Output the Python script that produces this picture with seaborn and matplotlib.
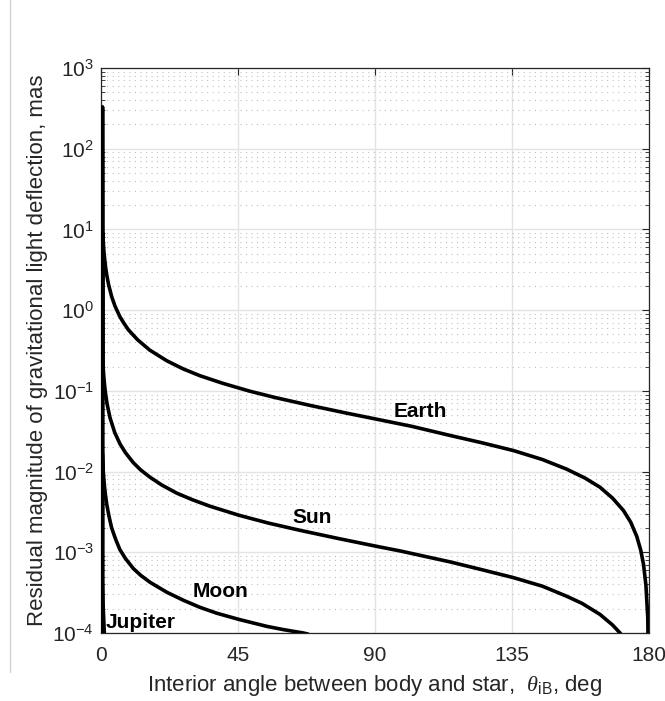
import matplotlib
matplotlib.use("Agg")
import matplotlib.pyplot as plt
import matplotlib.ticker as mticker
from matplotlib.lines import Line2D
import seaborn as sns
import pandas as pd
import numpy as np

# ---- data (theta in deg, deflection in mas) ----
earth_theta = [0.5, 0.6, 0.8, 1.0, 1.2, 1.5, 1.9, 2.5, 3.5, 4.6, 6.2, 7.5, 9.0, 12, 16, 21.6,
               27, 32.5, 40, 48.9, 57, 68.7, 80, 90.6, 102, 114.7, 125, 135.5, 145, 153, 159,
               163.9, 168, 171.6, 174, 176, 177.3, 178.2, 179, 179.6, 179.95]
earth_val = [1e-5, 9.0, 6.4, 5.1, 4.3, 3.4, 2.7, 2.06, 1.47, 1.12, 0.83, 0.69, 0.57, 0.43,
             0.32, 0.236, 0.187, 0.154, 0.124, 0.099, 0.083, 0.066, 0.0536, 0.0445, 0.0364,
             0.028, 0.0228, 0.0182, 0.0141, 0.0107, 0.0083, 0.0064, 0.0047, 0.0033, 0.00236,
             0.00157, 0.00106, 7.1e-4, 3.9e-4, 1.57e-4, 2e-5]

sun_theta = [0.45, 0.5, 0.6, 0.8, 1.0, 1.2, 1.5, 2.0, 2.96, 4.5, 6.24, 8, 10.6, 13, 16.1, 20,
             24.9, 30, 35.8, 45.4, 55, 65.4, 78, 90.3, 98.2, 114.7, 125, 135.5, 145, 153,
             158, 163.9, 168, 170.5, 171]
sun_val = [1e-5, 330, 0.23, 0.172, 0.1375, 0.115, 0.0917, 0.0687, 0.0464, 0.0305, 0.022,
           0.0172, 0.0129, 0.0105, 0.0085, 0.0068, 0.0054, 0.00448, 0.00372, 0.00287, 0.0023,
           0.00187, 0.00148, 0.00119, 0.00104, 7.6e-4, 6.1e-4, 4.85e-4, 3.8e-4, 2.85e-4,
           2.33e-4, 1.7e-4, 1.26e-4, 1.0e-4, 9.4e-5]

moon_theta = [0.4, 0.45, 0.76, 1.0, 1.2, 1.5, 1.9, 2.6, 3.5, 4.8, 6.2, 8, 10.6, 13, 16.1,
              21.6, 27, 32.5, 38, 45.4, 54.4, 60, 66.5, 68]
moon_val = [1e-5, 0.017, 0.0098, 0.00745, 0.0062, 0.00497, 0.0039, 0.00282, 0.0020, 0.00145,
            0.00108, 8.4e-4, 6.3e-4, 5.2e-4, 4.25e-4, 3.2e-4, 2.55e-4, 2.08e-4, 1.76e-4,
            1.47e-4, 1.21e-4, 1.1e-4, 1.0e-4, 9.7e-5]

jupiter_theta = [0.2, 0.25, 0.6, 1.0]
jupiter_val = [1e-6, 4.8e-4, 2e-4, 9e-5]

labels = ["Earth", "Sun", "Moon", "Jupiter"]
label_theta = [105, 69.5, 39.4, 13.1]
label_val = [0.056, 0.0027, 3.3e-4, 1.35e-4]

x_ticks = [0, 45, 90, 135, 180]
y_ticks = [1e-4, 1e-3, 1e-2, 1e-1, 1e0, 1e1, 1e2, 1e3]

# ---- style ----
sns.set_theme(style="white")
plt.rcParams["font.family"] = ["Liberation Sans", "DejaVu Sans"]
plt.rcParams["mathtext.fontset"] = "custom"
plt.rcParams["mathtext.rm"] = "Liberation Sans"
plt.rcParams["mathtext.it"] = "Liberation Serif:italic"
plt.rcParams["mathtext.bf"] = "Liberation Sans:bold"

fig = plt.figure(figsize=(6.65, 7.01), dpi=100)
ax = fig.add_axes([0.1519, 0.097, 0.8240, 0.806])

series = [(earth_theta, earth_val), (sun_theta, sun_val),
          (moon_theta, moon_val), (jupiter_theta, jupiter_val)]
for name, (th, v) in zip(labels, series):
    df = pd.DataFrame({"theta": th, "val": v})
    sns.lineplot(data=df, x="theta", y="val", ax=ax, color="black",
                 lw=3.2 if name == "Jupiter" else 2.6,
                 estimator=None, sort=False, legend=False, zorder=5)

ax.set_yscale("log")
ax.set_xlim(0, 180)
ax.set_ylim(1e-4, 1e3)
ax.set_xticks(x_ticks)
ax.set_xticklabels([str(t) for t in x_ticks])
ax.yaxis.set_major_locator(mticker.FixedLocator(y_ticks))
ax.yaxis.set_major_formatter(mticker.LogFormatterSciNotation())
ax.yaxis.set_minor_locator(mticker.LogLocator(base=10, subs=np.arange(2, 10), numticks=20))
ax.yaxis.set_minor_formatter(mticker.NullFormatter())

ax.grid(True, which="major", axis="both", color="#e3e3e3", lw=1.0, ls="-", zorder=0)
ax.grid(True, which="minor", axis="y", color="#c0c0c0", lw=0.8, ls=(0, (1, 4)), zorder=0)
ax.set_axisbelow(True)

ax.tick_params(axis="both", which="major", direction="in", length=5, width=0.8,
               colors="#262626", labelsize=15, top=True, right=True)
ax.tick_params(axis="x", which="major", pad=9)
ax.tick_params(axis="y", which="major", pad=5)
ax.tick_params(axis="y", which="minor", direction="in", length=3, width=0.6,
               colors="#262626", left=True, right=True)
for s in ax.spines.values():
    s.set_color("#262626")
    s.set_linewidth(0.9)

ax.set_xlabel(r"Interior angle between body and star,  $\theta_{\rm iB}$, deg",
              fontsize=16, color="#262626", labelpad=6)
ax.set_ylabel("Residual magnitude of gravitational light deflection, mas",
              fontsize=16, color="#262626", labelpad=3)

for name, tx, ty in zip(labels, label_theta, label_val):
    ax.text(tx, ty, name, fontsize=15, fontweight="bold", ha="center", va="center",
            color="black", zorder=6)

# faint vertical border line at the left of the image
fig.add_artist(Line2D([10 / 665, 10 / 665], [1 - 672 / 701, 1.0],
                      transform=fig.transFigure, color="#d4d4d4", lw=1.0))

fig.savefig("out.png", dpi=100)
